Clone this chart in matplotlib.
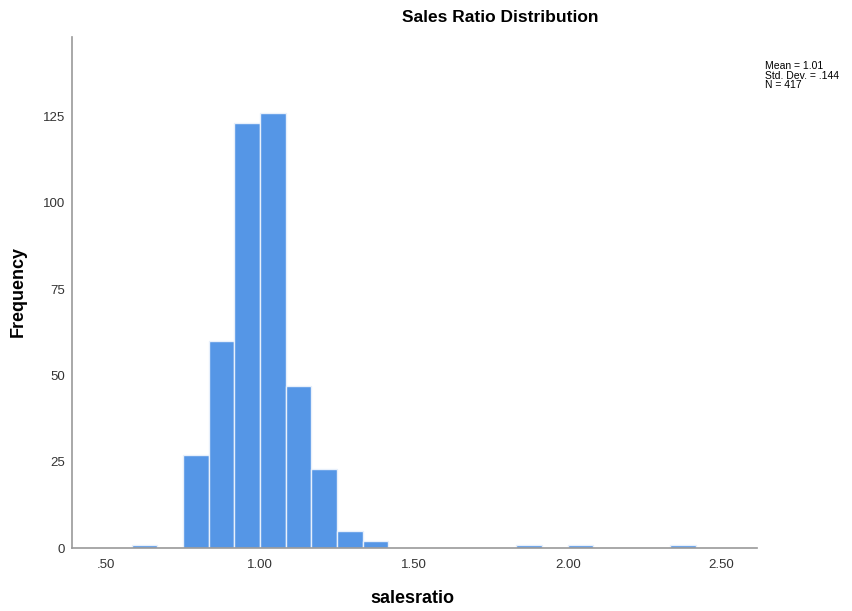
import numpy as np
import matplotlib.pyplot as plt

# histogram bins (width 1/12) and counts
bin_width = 1 / 12
bin_lefts = [7/12, 8/12, 9/12, 10/12, 11/12, 12/12, 13/12, 14/12, 15/12, 16/12,
             22/12, 24/12, 28/12]
counts = [1, 0, 27, 60, 123, 126, 47, 23, 5, 2, 1, 1, 1]

x_ticks = [0.5, 1.0, 1.5, 2.0, 2.5]
x_tick_labels = [".50", "1.00", "1.50", "2.00", "2.50"]
y_ticks = [0, 25, 50, 75, 100, 125]

stats_text = "Mean = 1.01\nStd. Dev. = .144\nN = 417"

plt.rcParams['font.family'] = ['Liberation Sans', 'DejaVu Sans']

fig = plt.figure(figsize=(8.53, 6.11), dpi=100)
ax = fig.add_axes([0.0844, 0.1031, 0.8031, 0.8363])

ax.bar(bin_lefts, counts, width=bin_width, align='edge',
       color='#5596e6', edgecolor='#e8f0fb', linewidth=1.0)

ax.set_xlim(0.389, 2.615)
ax.set_ylim(0, 148)
ax.set_xticks(x_ticks)
ax.set_xticklabels(x_tick_labels)
ax.set_yticks(y_ticks)
ax.tick_params(length=0, labelsize=9.5, colors='#333333', pad=8)
ax.tick_params(axis='y', pad=5)

for side in ['top', 'right']:
    ax.spines[side].set_visible(False)
for side in ['left', 'bottom']:
    ax.spines[side].set_color('#999999')
    ax.spines[side].set_linewidth(1.2)

fig.text(0.586, 0.972, "Sales Ratio Distribution", ha='center', va='center',
         fontsize=12.5, fontweight='bold')
fig.text(0.484, 0.021, "salesratio", ha='center', va='center',
         fontsize=13, fontweight='bold')
fig.text(0.021, 0.523, "Frequency", ha='center', va='center', rotation=90,
         fontsize=13, fontweight='bold')
fig.text(0.897, 0.900, stats_text, ha='left', va='top', fontsize=7.5,
         linespacing=0.95)

fig.savefig("out.png", dpi=100)
